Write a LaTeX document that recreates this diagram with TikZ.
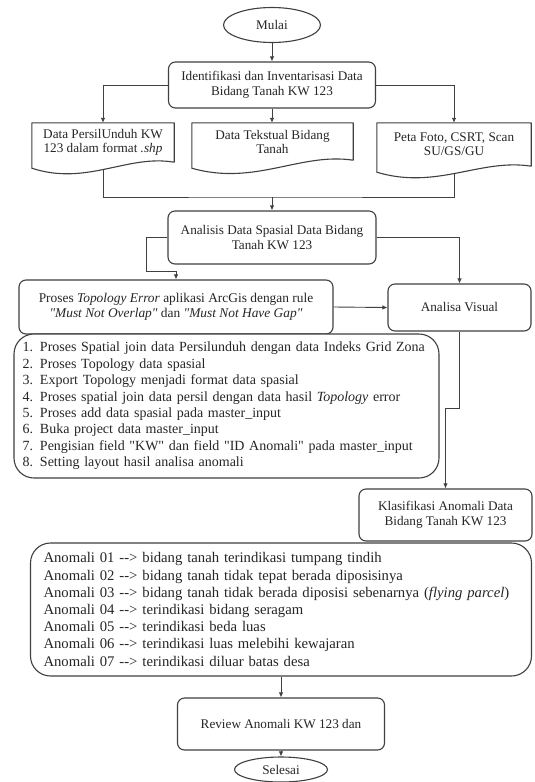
\documentclass[tikz,border=0pt]{standalone}
\usepackage{fontspec}
\setmainfont{Liberation Serif}
\usetikzlibrary{arrows.meta,shapes.geometric,calc}
\begin{document}
\begin{tikzpicture}[x=1pt,y=-1pt,
  line/.style={draw=black!75, line width=0.9pt},
  arr/.style={line, -{Latex[length=5pt,width=4.5pt]}},
  rbox/.style={draw=black!75, line width=1.1pt, rounded corners=7pt, align=center, inner sep=0pt, fill=white, text=black!85, font=\fontsize{13.2}{15}\selectfont},
  oval/.style={draw=black!75, line width=1.1pt, ellipse, inner sep=0pt, fill=white, text=black!85, font=\fontsize{13.2}{15}\selectfont},
  doctxt/.style={align=center, inner sep=0pt, text=black!85, font=\fontsize{13.2}{14}\selectfont},
  docline/.style={draw=black!75, line width=1.1pt, line join=round},
]
\useasboundingbox (0,0) rectangle (535,782);
\fill[white] (0,0) rectangle (535,782);

% start
\node[oval, minimum width=97, minimum height=35] (mulai) at (272,25) {Mulai};
\node[rbox, minimum width=207, minimum height=46] (ident) at (272,85) {Identifikasi dan Inventarisasi Data\\Bidang Tanah KW 123};

% documents
\node[doctxt, minimum width=142, minimum height=39] (doc1) at (103,142.5) {Data PersilUnduh KW\\123 dalam format \textit{.shp}};
\node[doctxt, minimum width=161, minimum height=37] (doc2) at (272.5,141.5) {Data Tekstual Bidang\\Tanah};
\node[doctxt, minimum width=154, minimum height=43] (doc3) at (454,144.5) {Peta Foto, CSRT, Scan\\SU/GS/GU};
\draw[docline] (doc1.north west) -- (doc1.north east) -- (doc1.south east)
  .. controls +(-47,-8) and +(55,18) .. ($(doc1.south west)+(0,6)$) -- cycle;
\draw[docline] (doc2.north west) -- (doc2.north east) -- (doc2.south east)
  .. controls +(-53,-8) and +(63,18) .. ($(doc2.south west)+(0,8)$) -- cycle;
\draw[docline] (doc3.north west) -- (doc3.north east) -- (doc3.south east)
  .. controls +(-51,-8) and +(60,18) .. ($(doc3.south west)+(0,6)$) -- cycle;

\draw[arr] (mulai) -- (ident);
\draw[arr] (ident.west) -| (doc1.north);
\draw[arr] (ident.east) -| (doc3.north);
\draw[arr] (ident.south) -- (ident.south |- doc2.north);

% analysis
\node[rbox, minimum width=208, minimum height=53] (analisis) at (272,237.5) {Analisis Data Spasial Data Bidang\\Tanah KW 123};
\coordinate (brk) at (272,197);
\draw[line] ($(doc1.south)+(0,7)$) |- (brk) -| ($(doc3.south)+(0,7)$);
\draw[arr] (brk) -- (analisis.north);

\node[rbox, minimum width=314, minimum height=54, font=\fontsize{13.4}{15}\selectfont] (proses) at (176,307) {Proses \textit{Topology Error} aplikasi ArcGis dengan rule\\\textit{\textquotedbl Must Not Overlap\textquotedbl} dan \textit{\textquotedbl Must Not Have Gap\textquotedbl}};
\node[rbox, minimum width=143, minimum height=47] (visual) at (459.5,307.5) {Analisa Visual};
\coordinate (lk) at (146,271);
\draw[arr] (analisis.west) -| (lk) -| (proses.north);
\draw[arr] (analisis.east) -| (visual.north);
\draw[arr] (proses.east) -- (visual.west);

% steps
\node[rbox, rounded corners=20pt, minimum width=425, minimum height=144, text width=408, align=left, font=\fontsize{14}{16.4}\selectfont] (steps) at (226.5,406) {1. Proses Spatial join data Persilunduh dengan data Indeks Grid Zona\\
2. Proses Topology data spasial\\
3. Export Topology menjadi format data spasial\\
4. Proses spatial join data persil dengan data hasil \textit{Topology} error\\
5. Proses add data spasial pada master\_input\\
6. Buka project data master\_input\\
7. Pengisian field \textquotedbl KW\textquotedbl{} dan field \textquotedbl ID Anomali\textquotedbl{} pada master\_input\\
8. Setting layout hasil analisa anomali};

% anomalies
\node[rbox, rounded corners=20pt, minimum width=501, minimum height=133, text width=475, align=left, font=\fontsize{14.7}{17.2}\selectfont] (anom) at (281,609.5) {Anomali 01 -{}-> bidang tanah terindikasi tumpang tindih\\
Anomali 02 -{}-> bidang tanah tidak tepat berada diposisinya\\
Anomali 03 -{}-> bidang tanah tidak berada diposisi sebenarnya (\textit{flying parcel})\\
Anomali 04 -{}-> terindikasi bidang seragam\\
Anomali 05 -{}-> terindikasi beda luas\\
Anomali 06 -{}-> terindikasi luas melebihi kewajaran\\
Anomali 07 -{}-> terindikasi diluar batas desa};

\node[rbox, minimum width=173, minimum height=52] (klas) at (445.5,515) {Klasifikasi Anomali Data\\Bidang Tanah KW 123};
\draw[arr] (visual.south) -- ++(0,77) -| (klas.north);

% end
\node[rbox, minimum width=207, minimum height=52] (review) at (281,724) {Review Anomali KW 123 dan};
\node[oval, minimum width=93, minimum height=25] (selesai) at (281,769.5) {Selesai};
\draw[arr] (anom.south) -- (review.north);
\draw[arr] (review) -- (selesai);
\end{tikzpicture}
\end{document}
